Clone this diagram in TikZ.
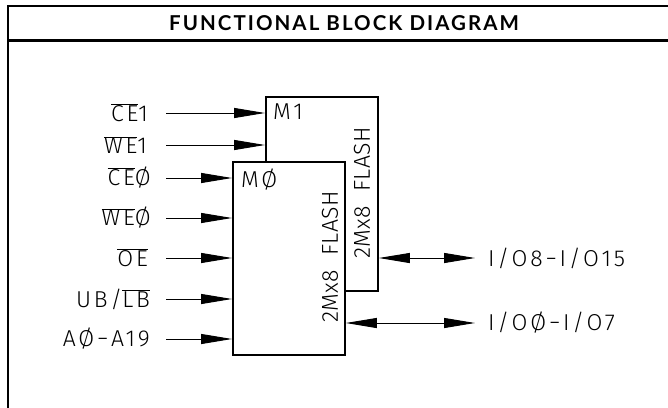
\documentclass[tikz,border=0pt]{standalone}
\usepackage{fontspec}
\newfontfamily\cadfont{Fira Sans Light}[LetterSpace=12]
\newfontfamily\cadtight{Fira Sans Light}[LetterSpace=2]
\newfontfamily\headfont{Lato}[UprightFont={* Bold}, LetterSpace=10]
\usetikzlibrary{
  arrows.meta
  }
\newcommand\ovl[1]{$\overline{\mbox{#1}}$}

\begin{document}
\begin{tikzpicture}[x=1pt, y=-1pt]
    \useasboundingbox (0,0) rectangle (668,407);
    \tikzset{cad/.style = {font=\cadfont\fontsize{23}{26}\selectfont, inner sep=0pt},
             side/.style = {font=\cadtight\fontsize{23}{26}\selectfont, inner sep=0pt, rotate=90},
             pin/.style = {line width=0.9pt, -{Triangle[length=31pt, width=10pt]}},
             bus/.style = {line width=0.9pt, {Triangle[length=31pt, width=10pt]}-{Triangle[length=31pt, width=10pt]}},
             chip/.style = {draw, line width=1.8pt, fill=white, minimum width=112pt, minimum height=193pt, inner sep=0pt, anchor=north west}}
    % cornice
    \draw [line width=2pt] (8,410) -- (8,6) -- (680,6);
    \draw [line width=3pt] (8,40) -- (680,40);
    \node [font=\headfont\fontsize{20.5}{22}\selectfont] (ntitle) at (344,23.5) {FUNCTIONAL BLOCK DIAGRAM};
    % chip
    \node [chip, minimum height=194pt] (nm1) at (265,96) {};
    \node [chip] (nm0) at (232,161) {};
    \node [cad, anchor=north west] at (273,104) {M1};
    \node [cad, anchor=north west] at (241,169) {MØ};
    \node [side] at (362,193) {2Mx8\ \ FLASH};
    \node [side] at (330,257) {2Mx8\ \ FLASH};
    % ingressi
    \node [cad, anchor=east] (lce1) at (148,113) {\ovl{CE}1};
    \node [cad, anchor=east] (lwe1) at (147,145) {\ovl{WE}1};
    \node [cad, anchor=east] (lce0) at (151,178) {\ovl{CE}Ø};
    \node [cad, anchor=east] (lwe0) at (151,218) {\ovl{WE}Ø};
    \node [cad, anchor=east] (loe) at (148,258) {\ovl{OE}};
    \node [cad, anchor=east] (lub) at (150,299) {UB/\ovl{LB}};
    \node [cad, anchor=east] (la) at (150,339) {AØ−A19};
    \foreach \n/\b in {lce1/nm1, lwe1/nm1, lce0/nm0, lwe0/nm0, loe/nm0, lub/nm0, la/nm0}
        \draw [pin] (166,0 |- \n) -- (\n -| \b.west);
    % uscite
    \node [cad, anchor=west] (lio8) at (488,258) {I/O8−I/O15};
    \node [cad, anchor=west] (lio0) at (488,323) {I/OØ−I/O7};
    \draw [bus] (lio8 -| nm1.east) -- ([xshift=-13pt]lio8.west);
    \draw [bus] (lio0 -| nm0.east) -- ([xshift=-13pt]lio0.west);
\end{tikzpicture}
\end{document}
